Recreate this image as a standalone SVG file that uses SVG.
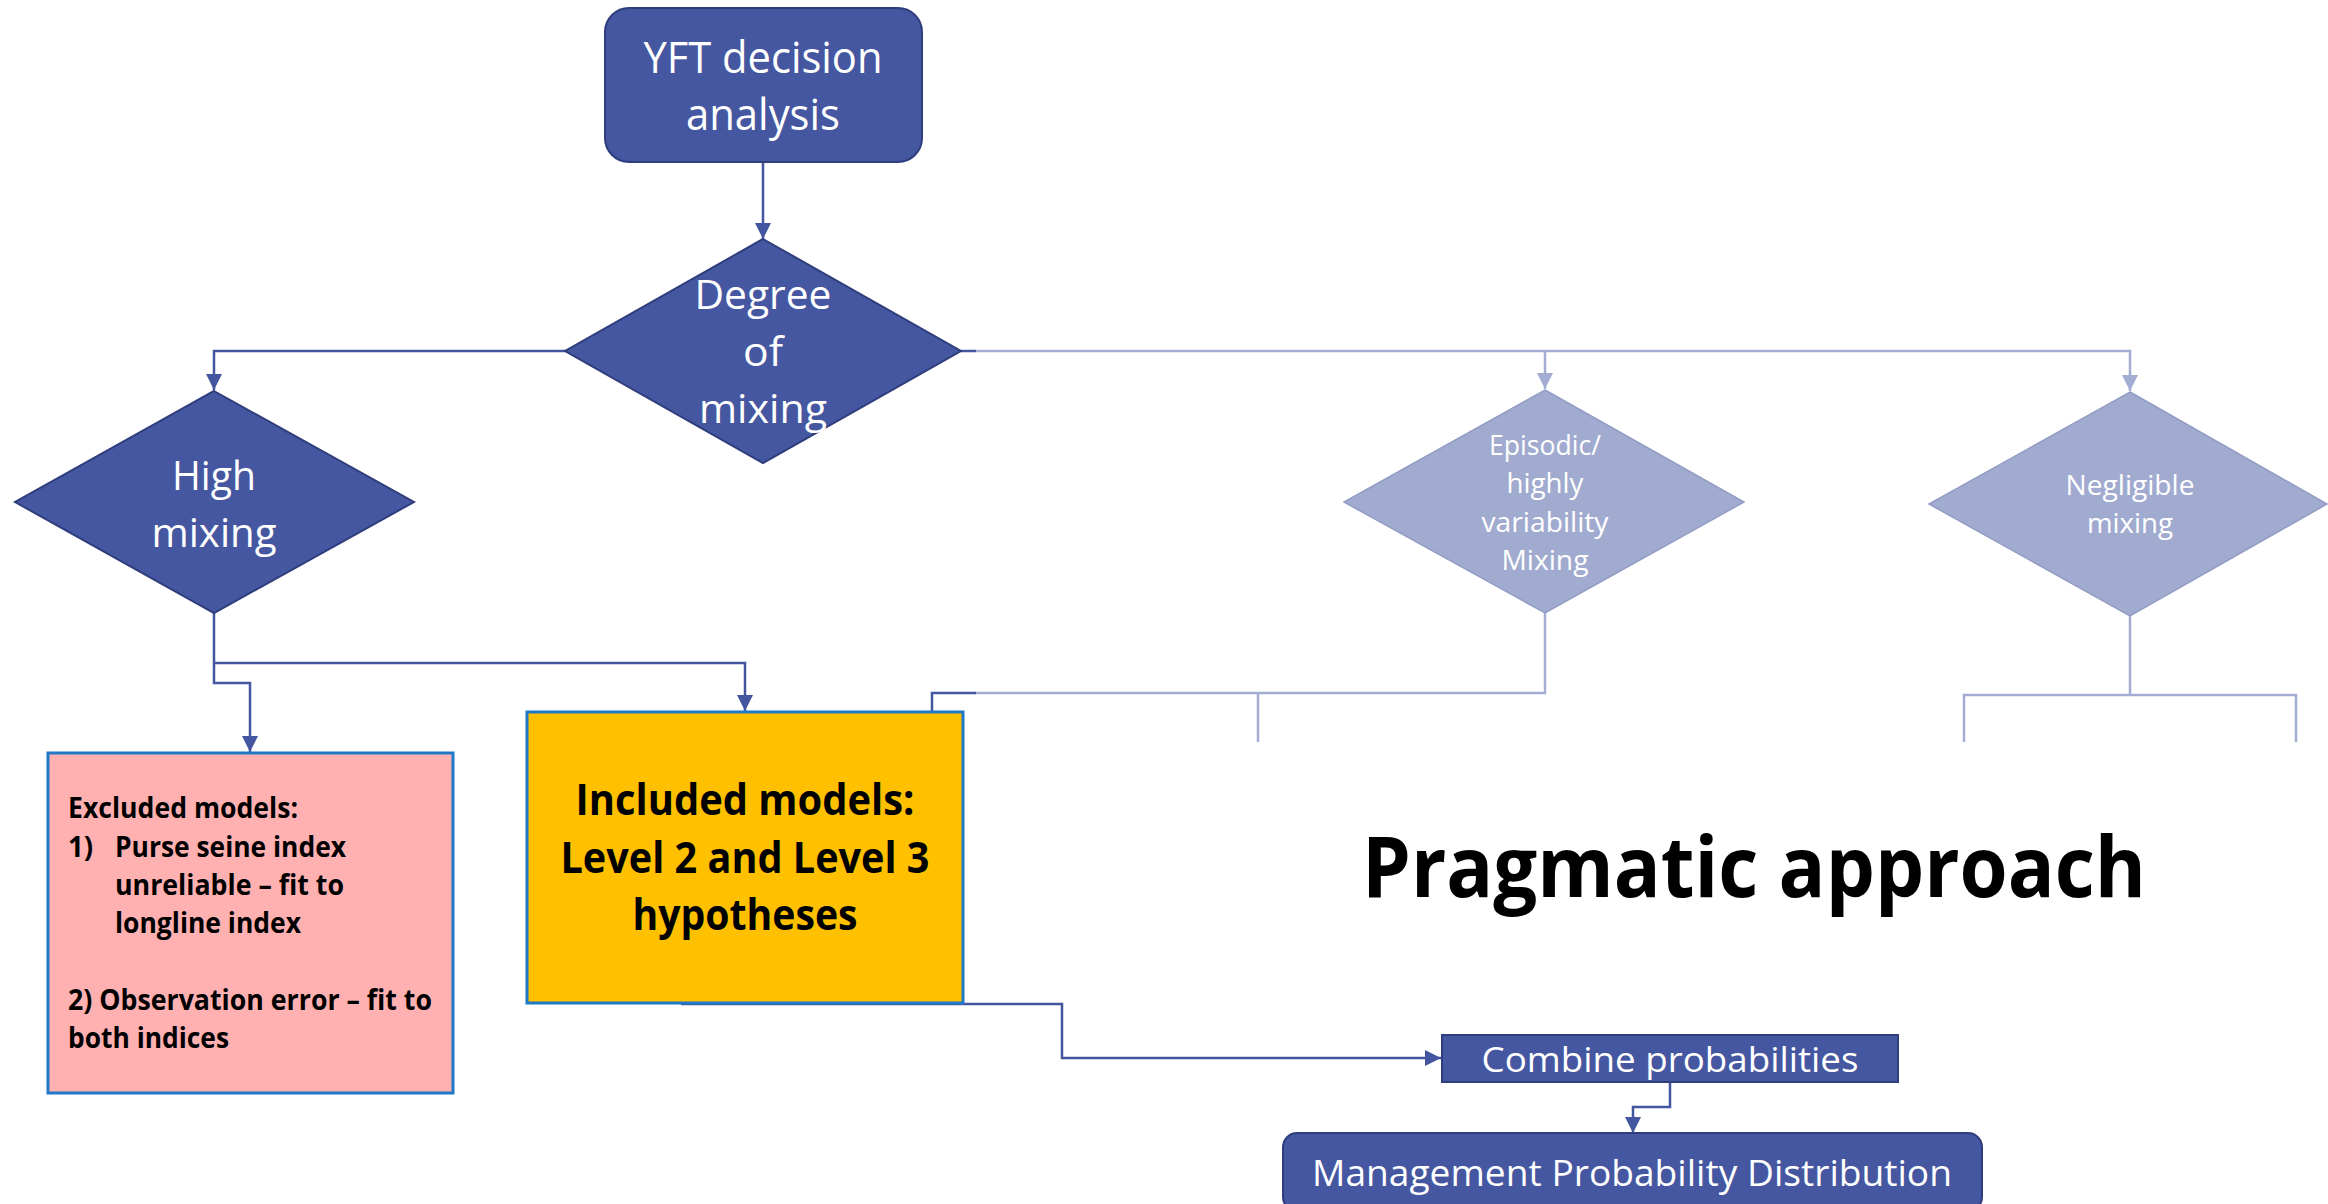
<svg xmlns="http://www.w3.org/2000/svg" width="2328" height="1204" viewBox="0 0 2328 1204">
<style>
text{font-family:"Open Sans","Noto Sans","Liberation Sans",sans-serif;}
.w{fill:#ffffff;text-anchor:middle;}
.b{fill:#000000;font-weight:bold;}
.dark{fill:#4557A0;stroke:#2F3D7C;stroke-width:2;}
.light{fill:#A1ABCF;stroke:#929CC4;stroke-width:1.5;}
.c{fill:none;stroke:#4456A0;stroke-width:2.5;}
.cl{fill:none;stroke:#A3ADD3;stroke-width:2.5;}
</style>
<defs>
<marker id="ad" markerUnits="userSpaceOnUse" markerWidth="18" markerHeight="18" refX="16" refY="8" orient="auto"><path d="M0,0 L16,8 L0,16 z" fill="#4456A0"/></marker>
<marker id="al" markerUnits="userSpaceOnUse" markerWidth="18" markerHeight="18" refX="16" refY="8" orient="auto"><path d="M0,0 L16,8 L0,16 z" fill="#A3ADD3"/></marker>
</defs>
<rect width="2328" height="1204" fill="#ffffff"/>
<g id="connectors">
<path class="c" d="M763,163 V239" marker-end="url(#ad)"/>
<path class="c" d="M565,351 H214 V390" marker-end="url(#ad)"/>
<path class="cl" d="M975,351 H2130 V391" marker-end="url(#al)"/>
<path class="cl" d="M1545,351 V389" marker-end="url(#al)"/>
<path class="c" d="M961,351 H976"/>
<path class="c" d="M214,613 V683 H250 V752" marker-end="url(#ad)"/>
<path class="c" d="M214,663 H745 V711" marker-end="url(#ad)"/>
<path class="cl" d="M1545,613 V693 H975"/>
<path class="cl" d="M1258,693 V742"/>
<path class="c" d="M976,693 H932 V712"/>
<path class="cl" d="M2130,616 V695"/>
<path class="cl" d="M1964,742 V695 H2296 V742"/>
<path class="c" d="M681,1004 H1062 V1058 H1441" marker-end="url(#ad)"/>
<path class="c" d="M1670,1083 V1107 H1633 V1133" marker-end="url(#ad)"/>
</g>
<g id="yft">
<rect class="dark" x="605" y="8" width="317" height="154" rx="24"/>
<text class="w" x="763" y="73" font-size="43" textLength="239" lengthAdjust="spacingAndGlyphs">YFT decision</text>
<text class="w" x="763" y="130" font-size="43" textLength="154" lengthAdjust="spacingAndGlyphs">analysis</text>
</g>
<g id="degree">
<polygon class="dark" points="763,239 961,351 763,463 565,351"/>
<text class="w" x="763" y="309" font-size="41" textLength="137" lengthAdjust="spacingAndGlyphs">Degree</text>
<text class="w" x="763" y="366" font-size="41" textLength="40" lengthAdjust="spacingAndGlyphs">of</text>
<text class="w" x="763" y="423" font-size="41" textLength="128" lengthAdjust="spacingAndGlyphs">mixing</text>
</g>
<g id="high">
<polygon class="dark" points="214,391 414,502 214,613 15,502"/>
<text class="w" x="214" y="490" font-size="41" textLength="84" lengthAdjust="spacingAndGlyphs">High</text>
<text class="w" x="214" y="547" font-size="41" textLength="125" lengthAdjust="spacingAndGlyphs">mixing</text>
</g>
<g id="episodic">
<polygon class="light" points="1545,390 1744,502 1545,613 1344,502"/>
<text class="w" x="1545" y="455" font-size="27" textLength="112" lengthAdjust="spacingAndGlyphs">Episodic/</text>
<text class="w" x="1545" y="493" font-size="27" textLength="77" lengthAdjust="spacingAndGlyphs">highly</text>
<text class="w" x="1545" y="532" font-size="27" textLength="127" lengthAdjust="spacingAndGlyphs">variability</text>
<text class="w" x="1545" y="570" font-size="27" textLength="87" lengthAdjust="spacingAndGlyphs">Mixing</text>
</g>
<g id="negligible">
<polygon class="light" points="2130,392 2327,504 2130,616 1929,504"/>
<text class="w" x="2130" y="495" font-size="27" textLength="129" lengthAdjust="spacingAndGlyphs">Negligible</text>
<text class="w" x="2130" y="533" font-size="27" textLength="86" lengthAdjust="spacingAndGlyphs">mixing</text>
</g>
<g id="excluded">
<rect x="48" y="753" width="405" height="340" fill="#FFB0B0" stroke="#1F78C8" stroke-width="3"/>
<text class="b" x="68" y="818" font-size="28" textLength="230" lengthAdjust="spacingAndGlyphs">Excluded models:</text>
<text class="b" x="68" y="857" font-size="28" textLength="25" lengthAdjust="spacingAndGlyphs">1)</text>
<text class="b" x="115" y="857" font-size="28" textLength="231" lengthAdjust="spacingAndGlyphs">Purse seine index</text>
<text class="b" x="115" y="895" font-size="28" textLength="229" lengthAdjust="spacingAndGlyphs">unreliable – fit to</text>
<text class="b" x="115" y="933" font-size="28" textLength="186" lengthAdjust="spacingAndGlyphs">longline index</text>
<text class="b" x="68" y="1010" font-size="28" textLength="364" lengthAdjust="spacingAndGlyphs">2) Observation error – fit to</text>
<text class="b" x="68" y="1048" font-size="28" textLength="161" lengthAdjust="spacingAndGlyphs">both indices</text>
</g>
<g id="included">
<rect x="527" y="712" width="436" height="291" fill="#FFC000" stroke="#1F78C8" stroke-width="3"/>
<text class="b" x="745" y="815" font-size="43" text-anchor="middle" textLength="339" lengthAdjust="spacingAndGlyphs">Included models:</text>
<text class="b" x="745" y="873" font-size="43" text-anchor="middle" textLength="369" lengthAdjust="spacingAndGlyphs">Level 2 and Level 3</text>
<text class="b" x="745" y="930" font-size="43" text-anchor="middle" textLength="225" lengthAdjust="spacingAndGlyphs">hypotheses</text>
</g>
<g id="pragmatic">
<text class="b" x="1754" y="897" font-size="84" text-anchor="middle" textLength="784" lengthAdjust="spacingAndGlyphs">Pragmatic approach</text>
</g>
<g id="combine">
<rect class="dark" x="1442" y="1035" width="456" height="47"/>
<text class="w" x="1670" y="1072" font-size="34" textLength="377" lengthAdjust="spacingAndGlyphs">Combine probabilities</text>
</g>
<g id="management">
<rect class="dark" x="1283" y="1133" width="699" height="78" rx="14"/>
<text class="w" x="1632" y="1186" font-size="36" textLength="640" lengthAdjust="spacingAndGlyphs">Management Probability Distribution</text>
</g>
</svg>
